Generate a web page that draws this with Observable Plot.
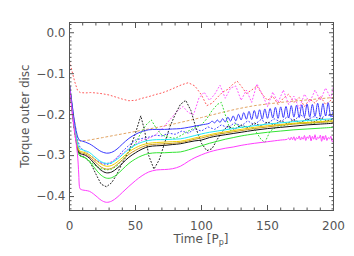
<!DOCTYPE html>
<html><head><meta charset="utf-8">
<script src="https://cdn.jsdelivr.net/npm/d3@7"></script>
<script src="https://cdn.jsdelivr.net/npm/@observablehq/plot@0.6"></script>
<style>
html,body{margin:0;padding:0;background:#fff;}
#chart{width:354px;height:256px;overflow:hidden;}
svg{display:block;}
</style></head><body><div id="chart"></div>
<script>
// ---- tick labels / axes ----
const xMajor = [0, 50, 100, 150, 200];
const xMinor = [10,20,30,40,60,70,80,90,110,120,130,140,160,170,180,190];
const yMajor = [0, -0.1, -0.2, -0.3, -0.4];
const yMinor = [0.02,0.01,-0.01,-0.02,-0.03,-0.04,-0.05,-0.06,-0.07,-0.08,-0.09,-0.11,-0.12,-0.13,-0.14,-0.15,-0.16,-0.17,-0.18,-0.19,-0.21,-0.22,-0.23,-0.24,-0.25,-0.26,-0.27,-0.28,-0.29,-0.31,-0.32,-0.33,-0.34,-0.35,-0.36,-0.37,-0.38,-0.39,-0.41,-0.42,-0.43];
const xTitle = "Time";
const yTitle = "Torque outer disc";

// ---- solid series (common time grid) ----
const tMain = [0,2,4,6,7,8,10,12,15,18,21,24,28,32,36,40,45,50,55,60,66,72,78,84,90,95,100,106,112,118,124,130,140,150,160,170,180,190,200];
const cyanVals = [-0.130,-0.180,-0.230,-0.268,-0.280,-0.284,-0.286,-0.288,-0.292,-0.300,-0.308,-0.315,-0.319,-0.317,-0.309,-0.298,-0.284,-0.274,-0.267,-0.263,-0.261,-0.261,-0.260,-0.259,-0.255,-0.251,-0.247,-0.243,-0.240,-0.237,-0.234,-0.231,-0.227,-0.223,-0.220,-0.217,-0.214,-0.212,-0.210];
const yellowVals = [-0.130,-0.182,-0.234,-0.272,-0.285,-0.289,-0.291,-0.293,-0.298,-0.306,-0.314,-0.321,-0.326,-0.324,-0.316,-0.305,-0.291,-0.281,-0.274,-0.270,-0.268,-0.267,-0.266,-0.265,-0.261,-0.257,-0.253,-0.249,-0.245,-0.242,-0.239,-0.236,-0.231,-0.227,-0.224,-0.221,-0.219,-0.217,-0.215];
const goldVals = [-0.130,-0.183,-0.236,-0.275,-0.288,-0.292,-0.294,-0.296,-0.302,-0.311,-0.320,-0.328,-0.333,-0.331,-0.322,-0.311,-0.297,-0.287,-0.279,-0.274,-0.272,-0.271,-0.270,-0.268,-0.264,-0.260,-0.257,-0.252,-0.248,-0.245,-0.242,-0.239,-0.234,-0.230,-0.226,-0.223,-0.221,-0.219,-0.217];
const blackVals = [-0.128,-0.184,-0.238,-0.278,-0.291,-0.295,-0.297,-0.299,-0.306,-0.316,-0.327,-0.336,-0.342,-0.340,-0.331,-0.319,-0.304,-0.293,-0.284,-0.278,-0.276,-0.275,-0.273,-0.271,-0.267,-0.264,-0.262,-0.256,-0.252,-0.249,-0.246,-0.243,-0.238,-0.234,-0.231,-0.228,-0.225,-0.223,-0.221];
const greenVals = [-0.130,-0.186,-0.242,-0.284,-0.297,-0.301,-0.303,-0.306,-0.314,-0.326,-0.338,-0.348,-0.355,-0.354,-0.346,-0.334,-0.319,-0.308,-0.300,-0.295,-0.293,-0.293,-0.292,-0.291,-0.286,-0.281,-0.276,-0.270,-0.265,-0.260,-0.256,-0.252,-0.247,-0.243,-0.240,-0.237,-0.235,-0.233,-0.231];

// blue solid (oscillating late)
const tBlue = [0,2,4,6,7,8,10,12,15,18,21,24,28,32,36,40,45,50,55,60,66,72,78,84,90,95,100,106,108,110,112,114,116,118,120,122,124,126,128,130,132,134,136,138,140,142,144,146,148,150,152,154,156,158,160,162,164,166,168,170,172,174,176,178,180,182,184,186,188,190,192,194,196,198,200];
const blueVals = [-0.125,-0.175,-0.222,-0.252,-0.260,-0.263,-0.265,-0.267,-0.271,-0.277,-0.284,-0.290,-0.294,-0.292,-0.284,-0.272,-0.258,-0.248,-0.241,-0.237,-0.236,-0.236,-0.235,-0.234,-0.231,-0.228,-0.225,-0.221,-0.216,-0.220,-0.213,-0.219,-0.210,-0.218,-0.206,-0.216,-0.203,-0.215,-0.199,-0.213,-0.195,-0.211,-0.192,-0.212,-0.190,-0.210,-0.188,-0.211,-0.186,-0.209,-0.185,-0.208,-0.182,-0.209,-0.181,-0.207,-0.180,-0.208,-0.178,-0.206,-0.177,-0.207,-0.176,-0.205,-0.174,-0.206,-0.175,-0.204,-0.172,-0.205,-0.173,-0.203,-0.171,-0.205,-0.190];

// magenta solid (lowest)
const tMag = [0,2,4,6,7,7.5,8,10,12,15,18,21,24,28,32,36,40,45,50,55,60,66,72,78,84,90,95,100,106,112,118,124,130,140,150,160,165,166,167,168,169,170,171,172,173,174,175,176,177,178,179,180,181,182,183,184,185,186,187,188,189,190,191,192,193,194,195,196,197,198,199,200];
const magVals = [-0.130,-0.190,-0.245,-0.295,-0.345,-0.375,-0.381,-0.384,-0.385,-0.387,-0.393,-0.401,-0.409,-0.414,-0.411,-0.402,-0.390,-0.375,-0.361,-0.349,-0.340,-0.335,-0.334,-0.332,-0.326,-0.314,-0.305,-0.298,-0.291,-0.286,-0.282,-0.279,-0.275,-0.270,-0.266,-0.262,-0.260,-0.257,-0.262,-0.255,-0.261,-0.254,-0.263,-0.256,-0.259,-0.252,-0.262,-0.255,-0.260,-0.251,-0.263,-0.254,-0.258,-0.250,-0.264,-0.253,-0.260,-0.249,-0.262,-0.255,-0.258,-0.250,-0.265,-0.252,-0.261,-0.251,-0.263,-0.256,-0.259,-0.253,-0.266,-0.262];

// ---- dotted / dashed series ----
const tRed = [0,2,4,6,8,12,16,20,25,30,35,40,45,50,55,60,65,70,75,80,85,90,95,100,104,108,112,116,120,124,127,130,134,138,142,146,150,154,158,162,166,170,174,178,182,186,190,194,198,200];
const redVals = [-0.07,-0.095,-0.12,-0.14,-0.146,-0.147,-0.146,-0.147,-0.149,-0.152,-0.157,-0.162,-0.166,-0.165,-0.160,-0.156,-0.151,-0.147,-0.141,-0.134,-0.127,-0.122,-0.130,-0.152,-0.178,-0.172,-0.158,-0.145,-0.138,-0.125,-0.118,-0.130,-0.148,-0.140,-0.130,-0.150,-0.165,-0.155,-0.175,-0.160,-0.150,-0.170,-0.158,-0.180,-0.162,-0.172,-0.155,-0.175,-0.165,-0.170];

const tMagDot = [0,2,4,6,8,10,14,18,22,26,30,34,38,42,46,50,55,60,65,70,74,78,82,86,90,94,98,102,106,110,114,118,122,126,130,134,138,142,146,150,154,158,162,166,170,174,178,182,186,190,194,198,200];
const magDotVals = [-0.13,-0.20,-0.25,-0.28,-0.295,-0.298,-0.302,-0.31,-0.316,-0.32,-0.318,-0.31,-0.30,-0.29,-0.28,-0.272,-0.262,-0.258,-0.25,-0.235,-0.22,-0.205,-0.19,-0.18,-0.195,-0.20,-0.16,-0.145,-0.165,-0.15,-0.128,-0.16,-0.135,-0.13,-0.165,-0.14,-0.17,-0.125,-0.15,-0.18,-0.145,-0.17,-0.14,-0.175,-0.155,-0.185,-0.15,-0.17,-0.14,-0.165,-0.135,-0.16,-0.13];

const tBlackDot = [0,3,6,8,12,16,20,24,28,32,36,40,45,50,54,57,60,64,68,72,76,80,84,88,92,96,100,104,108,112,116,120,125,130,135,140,145,150,155,160,165,170,175,180,185,190,195,200];
const blackDotVals = [-0.13,-0.22,-0.285,-0.30,-0.305,-0.318,-0.345,-0.37,-0.376,-0.366,-0.345,-0.318,-0.29,-0.245,-0.203,-0.24,-0.30,-0.333,-0.31,-0.27,-0.23,-0.20,-0.175,-0.165,-0.19,-0.235,-0.27,-0.288,-0.283,-0.26,-0.24,-0.228,-0.236,-0.225,-0.232,-0.22,-0.228,-0.218,-0.225,-0.215,-0.222,-0.212,-0.22,-0.21,-0.218,-0.208,-0.215,-0.21];

const tGreenDot = [0,4,8,12,16,20,24,28,32,36,40,45,50,54,58,62,66,70,75,80,85,90,95,100,104,108,112,115,118,122,126,130,135,140,145,148,152,156,160,165,170,175,180,185,190,195,200];
const greenDotVals = [-0.13,-0.24,-0.30,-0.305,-0.315,-0.325,-0.332,-0.335,-0.333,-0.325,-0.31,-0.29,-0.27,-0.245,-0.225,-0.213,-0.235,-0.25,-0.255,-0.258,-0.25,-0.24,-0.232,-0.225,-0.21,-0.19,-0.175,-0.17,-0.20,-0.24,-0.222,-0.232,-0.228,-0.235,-0.26,-0.268,-0.24,-0.232,-0.228,-0.225,-0.222,-0.22,-0.218,-0.222,-0.215,-0.218,-0.214];

const tTan = [0,3,6,8,15,25,35,50,65,80,100,115,127,140,160,180,200];
const tanVals = [-0.13,-0.20,-0.255,-0.265,-0.262,-0.256,-0.25,-0.241,-0.232,-0.222,-0.207,-0.195,-0.186,-0.178,-0.17,-0.164,-0.158];

const tBlueDot = [0,4,8,12,16,20,24,28,32,36,40,45,50,55,60,65,70,75,80,85,90,95,100,105,110,115,120,125,130,135,140,145,150,155,160,165,170,175,180,185,190,195,200];
const blueDotVals = [-0.13,-0.24,-0.28,-0.29,-0.30,-0.31,-0.318,-0.322,-0.318,-0.305,-0.29,-0.275,-0.262,-0.258,-0.255,-0.25,-0.252,-0.245,-0.248,-0.24,-0.245,-0.235,-0.24,-0.23,-0.236,-0.225,-0.232,-0.22,-0.228,-0.215,-0.225,-0.212,-0.222,-0.21,-0.218,-0.205,-0.215,-0.20,-0.212,-0.205,-0.21,-0.20,-0.205];

function pts(t, v) { return t.map((d, i) => ({t: d, v: v[i]})); }

const dotted = [
  {t: tRed, v: redVals, color: "#ff5a5a", dash: "1,2.6"},
  {t: tTan, v: tanVals, color: "#e2a463", dash: "2,2.6"},
  {t: tMagDot, v: magDotVals, color: "#ff55ff", dash: "1,2.4"},
  {t: tGreenDot, v: greenDotVals, color: "#33dd33", dash: "1,2.4"},
  {t: tBlueDot, v: blueDotVals, color: "#4444ff", dash: "1,2.4"},
  {t: tBlackDot, v: blackDotVals, color: "#222", dash: "1,2.2"}
];
const solid = [
  {t: tMain, v: greenVals, color: "#33e433"},
  {t: tMain, v: blackVals, color: "#111"},
  {t: tMain, v: goldVals, color: "#c99a22"},
  {t: tMain, v: yellowVals, color: "#f0d000"},
  {t: tMain, v: cyanVals, color: "#22e8f4"},
  {t: tBlue, v: blueVals, color: "#3a3aff"},
  {t: tMag, v: magVals, color: "#ff3cff"}
];

const axisColor = "#555";
const fmtY = d => d === 0 ? "0.0" : "\u2212" + Math.abs(d).toFixed(1);

const chart = Plot.plot({
  width: 354, height: 256,
  marginLeft: 69, marginRight: 21, marginTop: 22, marginBottom: 46,
  style: {fontFamily: "DejaVu Sans, sans-serif", fontSize: "12px", color: axisColor, background: "#fff"},
  x: {domain: [0, 200]},
  y: {domain: [-0.434, 0.025]},
  marks: [
    ...dotted.map(s => Plot.line(pts(s.t, s.v), {x: "t", y: "v", stroke: s.color, strokeWidth: 1, strokeDasharray: s.dash, clip: true})),
    ...solid.map(s => Plot.line(pts(s.t, s.v), {x: "t", y: "v", stroke: s.color, strokeWidth: 1, curve: "catmull-rom", clip: true})),
    Plot.frame({stroke: axisColor}),
    // tick labels
    Plot.axisX({anchor: "bottom", ticks: xMajor, tickSize: 0, tickPadding: 11, tickFormat: d => String(d), label: null}),
    Plot.axisY({anchor: "left", ticks: yMajor, tickSize: 0, tickPadding: 4, tickFormat: fmtY, label: null}),
    // inward ticks, bottom & top
    Plot.axisX({anchor: "bottom", ticks: xMajor, tickSize: -5, tickFormat: () => "", label: null}),
    Plot.axisX({anchor: "bottom", ticks: xMinor, tickSize: -2.5, tickFormat: () => "", label: null}),
    Plot.axisX({anchor: "top", ticks: xMajor, tickSize: -5, tickFormat: () => "", label: null}),
    Plot.axisX({anchor: "top", ticks: xMinor, tickSize: -2.5, tickFormat: () => "", label: null}),
    // inward ticks, left & right
    Plot.axisY({anchor: "left", ticks: yMajor, tickSize: -5, tickFormat: () => "", label: null}),
    Plot.axisY({anchor: "left", ticks: yMinor, tickSize: -2.5, tickFormat: () => "", label: null}),
    Plot.axisY({anchor: "right", ticks: yMajor, tickSize: -5, tickFormat: () => "", label: null}),
    Plot.axisY({anchor: "right", ticks: yMinor, tickSize: -2.5, tickFormat: () => "", label: null})
  ]
});

document.getElementById("chart").appendChild(chart);

// axis titles (with subscript)
const sx = chart.scale("x"), sy = chart.scale("y");
const svg = d3.select(chart.tagName.toLowerCase() === "svg" ? chart : chart.querySelector("svg"));
const cx = (sx.apply(0) + sx.apply(200)) / 2;
const cy = (sy.apply(0.025) + sy.apply(-0.434)) / 2;
const xt = svg.append("text")
  .attr("x", cx).attr("y", 243)
  .attr("text-anchor", "middle")
  .attr("fill", axisColor)
  .style("font-family", "DejaVu Sans, sans-serif").style("font-size", "12px");
xt.append("tspan").text(xTitle + " [P");
xt.append("tspan").attr("dy", 2).style("font-size", "8px").text("p");
xt.append("tspan").attr("dy", -2).text("]");
svg.append("text")
  .attr("transform", `translate(25,${cy}) rotate(-90)`)
  .attr("text-anchor", "middle").attr("dominant-baseline", "central")
  .attr("fill", axisColor)
  .style("font-family", "DejaVu Sans, sans-serif").style("font-size", "12px")
  .text(yTitle);
</script>
</body></html>
